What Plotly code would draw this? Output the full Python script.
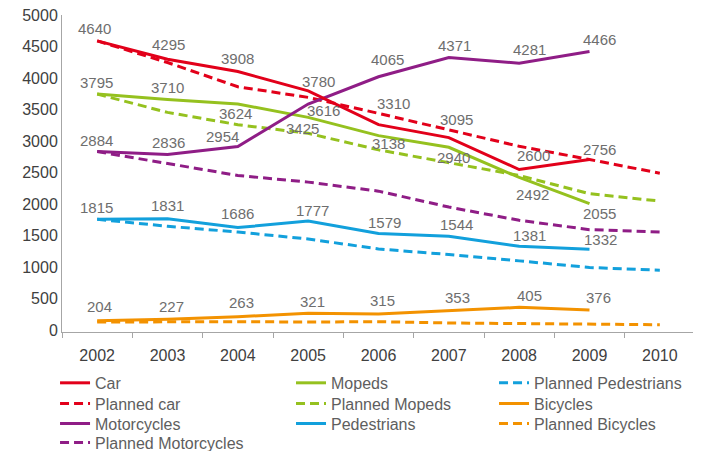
import plotly.graph_objects as go

years = [2002, 2003, 2004, 2005, 2006, 2007, 2008, 2009, 2010]
year_labels = ["2002", "2003", "2004", "2005", "2006", "2007", "2008", "2009", "2010"]
years_actual = years[:8]

# plotted values
car = [4589, 4299, 4103, 3797, 3259, 3054, 2547, 2706]
planned_car = [4589, 4246, 3861, 3692, 3438, 3175, 2916, 2706, 2489]
motorcycles = [2832, 2785, 2911, 3587, 4019, 4324, 4236, 4419]
planned_motorcycles = [2832, 2647, 2453, 2347, 2204, 1951, 1741, 1593, 1555]
mopeds = [3745, 3660, 3587, 3375, 3085, 2900, 2421, 2005]
planned_mopeds = [3745, 3454, 3259, 3122, 2859, 2653, 2453, 2163, 2046]
pedestrians = [1756, 1767, 1625, 1729, 1530, 1487, 1329, 1282]
planned_pedestrians = [1756, 1646, 1555, 1445, 1286, 1198, 1097, 992, 949]
bicycles = [147, 169, 210, 264, 253, 305, 359, 316]
planned_bicycles = [127, 131, 131, 127, 131, 111, 100, 90, 84]

# data labels printed on the chart
car_labels = ["4640", "4295", "3908", "3780", "3310", "3095", "2600", "2756"]
motorcycles_labels = ["2884", "2836", "2954", "3616", "4065", "4371", "4281", "4466"]
mopeds_labels = ["3795", "3710", "3624", "3425", "3138", "2940", "2492", "2055"]
pedestrians_labels = ["1815", "1831", "1686", "1777", "1579", "1544", "1381", "1332"]
bicycles_labels = ["204", "227", "263", "321", "315", "353", "405", "376"]

y_ticks = [0, 500, 1000, 1500, 2000, 2500, 3000, 3500, 4000, 4500, 5000]

# label offsets in pixels (style): (dx, dy) with dy positive = up
car_off = [(-3, 12), (1, 15), (0, 13), (10, 9), (15, 21), (8, 18), (14, 14), (10, 10)]
moto_off = [(-1, 11), (1, 12), (-15, 10), (15, -6), (9, 17), (6, 12), (10, 14), (10, 12)]
mop_off = [(-1, 12), (0, 12), (-2, -9), (-6, -11), (10, -8), (5, -10), (13, -17), (10, -10)]
ped_off = [(-1, 12), (0, 13), (0, 14), (4, 11), (6, 11), (8, 12), (10, 11), (11, 10)]
bic_off = [(2, 14), (4, 13), (4, 14), (4, 12), (4, 14), (9, 13), (10, 12), (9, 13)]

RED = "#e2001a"
PURPLE = "#8f1d86"
GREEN = "#95c11f"
BLUE = "#12a0dc"
ORANGE = "#f39200"
LABEL_COLOR = "#6e6e6e"
DASH = "9px,5px"
FONT = "Liberation Sans"

# legend slot of each series: (column, row)
COLS = [-0.011, 0.3618, 0.6825]
ROWS = [-0.107, -0.172, -0.235, -0.295]
slots = {
    "Car": (0, 0), "Planned car": (0, 1), "Motorcycles": (0, 2), "Planned Motorcycles": (0, 3),
    "Mopeds": (1, 0), "Planned Mopeds": (1, 1), "Pedestrians": (1, 2),
    "Planned Pedestrians": (2, 0), "Bicycles": (2, 1), "Planned Bicycles": (2, 2),
}

fig = go.Figure()
legend_layouts = {}
leg_font = dict(size=16, color="#5e5e5e", family=FONT)


def legend_for(name):
    c, r = slots[name]
    idx = len(legend_layouts) + 1
    key = "legend" if idx == 1 else f"legend{idx}"
    legend_layouts[key] = dict(
        orientation="v", x=COLS[c], xanchor="left", y=ROWS[r], yanchor="top",
        font=leg_font, itemwidth=30, bgcolor="rgba(0,0,0,0)",
    )
    return key


def planned(name, vals, color):
    fig.add_trace(go.Scatter(
        x=years, y=vals, name=name, mode="lines",
        line=dict(color=color, width=3, dash=DASH),
        legend=legend_for(name), hoverinfo="skip",
    ))


def actual(name, vals, labels, offs, color):
    fig.add_trace(go.Scatter(
        x=years_actual, y=vals, name=name, mode="lines",
        line=dict(color=color, width=3),
        legend=legend_for(name), hoverinfo="skip",
    ))
    for xv, yv, t, (dx, dy) in zip(years_actual, vals, labels, offs):
        fig.add_annotation(
            x=xv, y=yv, xref="x", yref="y", text=t, showarrow=False,
            xshift=dx, yshift=dy,
            font=dict(color=LABEL_COLOR, size=15, family=FONT),
        )


planned("Planned Bicycles", planned_bicycles, ORANGE)
planned("Planned Pedestrians", planned_pedestrians, BLUE)
planned("Planned Motorcycles", planned_motorcycles, PURPLE)
planned("Planned Mopeds", planned_mopeds, GREEN)
planned("Planned car", planned_car, RED)
actual("Bicycles", bicycles, bicycles_labels, bic_off, ORANGE)
actual("Pedestrians", pedestrians, pedestrians_labels, ped_off, BLUE)
actual("Mopeds", mopeds, mopeds_labels, mop_off, GREEN)
actual("Motorcycles", motorcycles, motorcycles_labels, moto_off, PURPLE)
actual("Car", car, car_labels, car_off, RED)

fig.update_layout(
    width=693, height=443,
    margin=dict(l=54, r=6, t=7, b=119, autoexpand=False),
    paper_bgcolor="white", plot_bgcolor="white",
    font=dict(family=FONT, color="#404040"),
    showlegend=True,
    **legend_layouts,
)
fig.update_xaxes(
    range=[2001.5, 2010.5], tickmode="array", tickvals=years, ticktext=year_labels,
    showline=True, linecolor="#a6a6a6", linewidth=1,
    ticks="", showgrid=False, zeroline=False, ticklabelstandoff=9,
    ticklabeloverflow="allow",
    minor=dict(tickmode="linear", tick0=2001.5, dtick=1, ticks="outside",
               ticklen=5, tickcolor="#a6a6a6", showgrid=False),
    tickfont=dict(size=16, color="#404040", family=FONT),
)
fig.update_yaxes(
    range=[-32, 5000], tickvals=y_ticks,
    showline=True, linecolor="#a6a6a6", linewidth=1,
    ticks="", showgrid=False, zeroline=False, ticklabeloverflow="allow",
    tickfont=dict(size=16, color="#404040", family=FONT),
)

fig.write_html("out.html")
